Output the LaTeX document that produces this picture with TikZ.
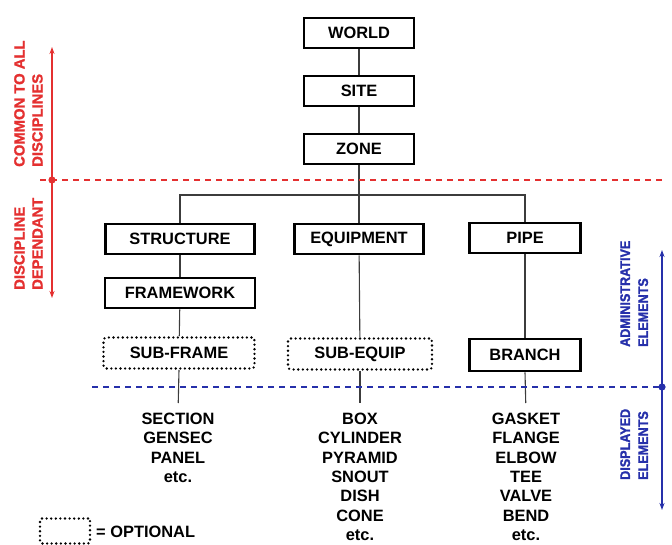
\documentclass[tikz,border=0pt]{standalone}
\usepackage{fontspec}
\setmainfont{Liberation Sans}
\newfontfamily\redsans[FakeBold=1.3]{Liberation Sans Bold}
\newfontfamily\narrowsans[FakeStretch=0.9, FakeBold=1.3]{Liberation Sans Bold}
\usetikzlibrary{arrows.meta}
\definecolor{redline}{RGB}{228,48,48}
\definecolor{blueline}{RGB}{38,48,170}
\definecolor{connc}{RGB}{60,60,60}
\begin{document}
\begin{tikzpicture}[x=1pt,y=-1pt,
  boxfont/.style={font=\fontsize{16.4}{19}\selectfont\bfseries},
  box/.style={boxfont, draw=black, line width=2.6pt, fill=white, minimum height=30pt, inner sep=0pt},
  optbox/.style={boxfont, draw=black, line width=2.6pt, dash pattern=on 0pt off 4.6pt, line cap=round, rounded corners=3pt, minimum height=31pt, inner sep=0pt},
  conn/.style={draw=connc, line width=1.1pt},
  listtext/.style={align=center, font=\fontsize{16.4}{19.3}\selectfont\bfseries, inner sep=0pt, anchor=north},
  redtext/.style={text=redline, font=\fontsize{14.8}{18}\redsans, rotate=90, align=left, inner sep=0pt, anchor=north west},
  bluetext/.style={text=blueline, font=\fontsize{14}{18}\narrowsans, rotate=90, align=left, inner sep=0pt, anchor=north west},
  redarrow/.style={draw=redline, line width=1.2pt, {Stealth[length=7pt,width=5pt]}-{Stealth[length=7pt,width=5pt]}},
  bluearrow/.style={draw=blueline, line width=1.2pt, {Stealth[length=7pt,width=5pt]}-{Stealth[length=7pt,width=5pt]}},
  reddash/.style={draw=redline, line width=1.6pt, dash pattern=on 6pt off 5pt},
  bluedash/.style={draw=blueline, line width=1.6pt, dash pattern=on 6pt off 5pt}
]
\useasboundingbox (0,0) rectangle (672,545);

% top chain
\node[box, minimum width=110pt] (world) at (359,33) {WORLD};
\node[box, minimum width=110pt] (site) at (359,91) {SITE};
\node[box, minimum width=110pt] (zone) at (359,149) {ZONE};

% discipline row
\node[box, minimum width=149pt] (structure) at (180,239) {STRUCTURE};
\node[box, minimum width=129pt] (equipment) at (359,239) {EQUIPMENT};
\node[box, minimum width=111pt] (pipe) at (525,238) {PIPE};

\node[box, minimum width=150pt] (framework) at (180,293) {FRAMEWORK};
\node[optbox, minimum width=151pt] (subframe) at (179,353) {SUB-FRAME};
\node[optbox, minimum width=144pt] (subequip) at (360,354) {SUB-EQUIP};
\node[box, minimum width=111pt, minimum height=32pt] (branch) at (525,355) {BRANCH};

% lists
\node[listtext] (seclist) at (178,413) {SECTION\\GENSEC\\PANEL\\etc.};
\node[listtext] (eqlist) at (360,413) {BOX\\CYLINDER\\PYRAMID\\SNOUT\\DISH\\CONE\\etc.};
\node[listtext] (pipelist) at (526,413) {GASKET\\FLANGE\\ELBOW\\TEE\\VALVE\\BEND\\etc.};

% connectors
\coordinate (junction) at (359,195);
\draw[conn] (world) -- (site);
\draw[conn] (site) -- (zone);
\draw[conn] (zone.south) -- (junction);
\draw[conn] (structure.north) -- (structure.north |- junction) -- (pipe.north |- junction) -- (pipe.north);
\draw[conn] (equipment.north) -- (equipment.north |- junction);
\draw[conn] (structure) -- (framework);
\draw[conn] (framework) -- (subframe);
\draw[conn] (equipment) -- (subequip);
\draw[conn] (pipe) -- (branch);
\draw[conn, shorten >=10pt] (subframe.south) -- (seclist.north);
\draw[conn, shorten >=10pt] (subequip.south) -- (eqlist.north);
\draw[conn, shorten >=10pt] (branch.south) -- (pipelist.north);

% red annotation
\coordinate (rdot) at (52,180);
\coordinate (rtop) at (52,47);
\coordinate (rbot) at (52,298);
\coordinate (rdashL) at (40,180);
\coordinate (rdashR) at (662,180);
\draw[reddash] (rdashL) -- (rdashR);
\draw[redarrow] (rbot) -- (rtop);
\fill[redline] (rdot) circle (3.6pt);
\node[redtext] (common) at (14,167) {COMMON TO ALL\\DISCIPLINES};
\node[redtext] (dependant) at (14,290) {DISCIPLINE\\DEPENDANT};

% blue annotation
\coordinate (bdot) at (662,387);
\coordinate (btop) at (662,250);
\coordinate (bbot) at (662,510);
\coordinate (bdashL) at (92,387);
\draw[bluedash] (bdashL) -- (bdot);
\draw[bluearrow] (bbot) -- (btop);
\fill[blueline] (bdot) circle (3.6pt);
\node[bluetext] (admin) at (620,347) {ADMINISTRATIVE\\ELEMENTS};
\node[bluetext] (displayed) at (620,480) {DISPLAYED\\ELEMENTS};

% legend
\node[optbox, minimum width=50pt, minimum height=25pt, rounded corners=2pt] (legbox) at (65,531) {};
\node[boxfont, anchor=west, inner sep=0pt] (legtext) at (96,532) {= OPTIONAL};
\end{tikzpicture}
\end{document}
